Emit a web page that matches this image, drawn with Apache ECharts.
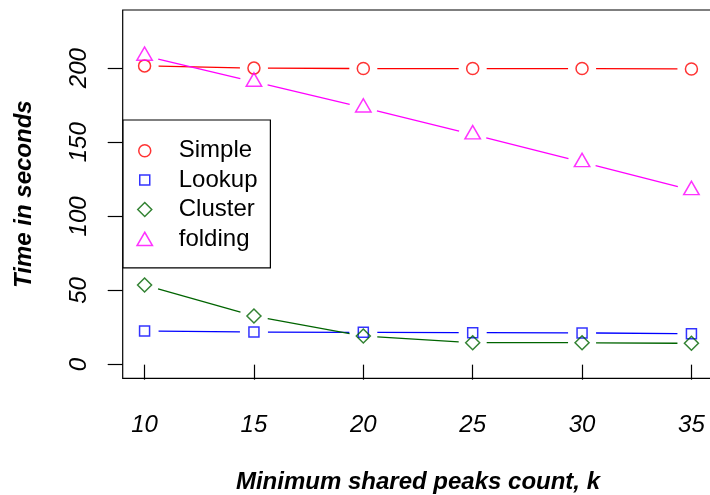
<!DOCTYPE html>
<html>
<head>
<meta charset="utf-8">
<script src="https://cdn.jsdelivr.net/npm/echarts@6/dist/echarts.min.js"></script>
<style>
html,body{margin:0;padding:0;background:#fff;}
#chart{width:710px;height:495px;}
</style>
</head>
<body>
<div id="chart"></div>
<script>
const xValues = [10, 15, 20, 25, 30, 35];
const simple  = [201.5, 200.0, 199.7, 199.7, 199.7, 199.4];
const lookup  = [22.7, 22.0, 21.8, 21.6, 21.4, 20.9];
const cluster = [53.7, 32.8, 19.3, 14.8, 14.8, 14.4];
const folding = [208.3, 190.8, 173.4, 155.3, 136.6, 117.7];
const xTicks = [10, 15, 20, 25, 30, 35];
const yTicks = [0, 50, 100, 150, 200];
const seriesNames = ['Simple', 'Lookup', 'Cluster', 'folding'];

const FONT = 'Liberation Sans, Arial, Helvetica, sans-serif';
const colors = ['#ff0000', '#0000ff', '#006400', '#ff00ff'];

function segs(ys) {
  const out = [];
  for (let i = 0; i < xValues.length - 1; i++) out.push([xValues[i], ys[i], xValues[i + 1], ys[i + 1]]);
  return out;
}
function pts(ys) { return xValues.map((x, i) => [x, ys[i]]); }
function gapLine(color) {
  return function (params, api) {
    const p1 = api.coord([api.value(0), api.value(1)]);
    const p2 = api.coord([api.value(2), api.value(3)]);
    const dx = p2[0] - p1[0], dy = p2[1] - p1[1];
    const d = Math.hypot(dx, dy);
    const g = 14;
    if (d <= 2 * g) return null;
    const ux = dx / d, uy = dy / d;
    return {
      type: 'line',
      shape: { x1: p1[0] + ux * g, y1: p1[1] + uy * g, x2: p2[0] - ux * g, y2: p2[1] - uy * g },
      style: { stroke: color, lineWidth: 1.3 }
    };
  };
}

const datasets = [simple, lookup, cluster, folding];
const symbols = ['circle', 'rect', 'diamond', 'triangle'];
const sizes = [12, 10, 14, [15.4, 13.3]];
const offsets = [[0, 0], [0, 0], [0, 0], [0, -2.2]];
const legendIcons = [
  'path://M0,0M37,14M2,7A6,6,0,1,0,14,7A6,6,0,1,0,2,7Z',
  'path://M0,0M37,14M3,2L13,2L13,12L3,12Z',
  'path://M0,0M37,14M8,0L15,7L8,14L1,7Z',
  'path://M0,0M37,14M8,0.35L15.7,13.65L0.3,13.65Z'
];

const series = [];
datasets.forEach((ys, k) => {
  series.push({
    type: 'custom', name: seriesNames[k] + ' line', silent: true,
    renderItem: gapLine(colors[k]), data: segs(ys),
    encode: { x: [0, 2], y: [1, 3] }, z: 2 + 2 * k
  });
  series.push({
    type: 'scatter', name: seriesNames[k], data: pts(ys),
    symbol: symbols[k], symbolSize: sizes[k], symbolOffset: offsets[k],
    itemStyle: { color: 'rgba(0,0,0,0)', borderColor: colors[k], borderWidth: 1.5 },
    z: 3 + 2 * k
  });
});

const chart = echarts.init(document.getElementById('chart'), null, { renderer: 'canvas' });
chart.setOption({
  animation: false,
  backgroundColor: '#fff',
  grid: { left: 122.7, top: 10, right: -3.3, bottom: 116.7, containLabel: false, outerBoundsMode: 'none', show: true, borderColor: '#000', borderWidth: 1.2, backgroundColor: 'rgba(0,0,0,0)' },
  xAxis: {
    type: 'value', min: 9, max: 36,
    axisLine: { show: false },
    splitLine: { show: false },
    axisTick: { show: true, customValues: xTicks, length: 15, lineStyle: { color: '#000', width: 1.2 } },
    axisLabel: { customValues: xTicks, margin: 35, fontSize: 24, fontStyle: 'italic', color: '#000', fontFamily: FONT },
    name: 'Minimum shared peaks count, k', nameLocation: 'middle', nameGap: 92,
    nameTextStyle: { fontSize: 24, fontWeight: 'bold', fontStyle: 'italic', color: '#000', fontFamily: FONT }
  },
  yAxis: {
    type: 'value', min: -9.2, max: 239.2,
    axisLine: { show: false },
    splitLine: { show: false },
    axisTick: { show: true, customValues: yTicks, length: 15, lineStyle: { color: '#000', width: 1.2 } },
    axisLabel: { customValues: yTicks, rotate: 90, margin: 31, fontSize: 24, fontStyle: 'italic', color: '#000', fontFamily: FONT },
    name: 'Time in seconds', nameLocation: 'middle', nameGap: 86,
    nameTextStyle: { fontSize: 24, fontWeight: 'bold', fontStyle: 'italic', color: '#000', fontFamily: FONT }
  },
  legend: {
    orient: 'vertical', left: 123, top: 120,
    padding: [18.7, 12.9, 17, 13],
    itemWidth: 37, itemHeight: 14, itemGap: 5.4,
    backgroundColor: '#fff', borderColor: '#000', borderWidth: 1.2, borderRadius: 0,
    selectedMode: false,
    textStyle: { fontSize: 24, color: '#000', fontFamily: FONT },
    data: seriesNames.map((n, k) => ({
      name: n, icon: legendIcons[k],
      itemStyle: { color: 'rgba(0,0,0,0)', borderColor: colors[k], borderWidth: 1.5 }
    }))
  },
  series: series
});
</script>
</body>
</html>
